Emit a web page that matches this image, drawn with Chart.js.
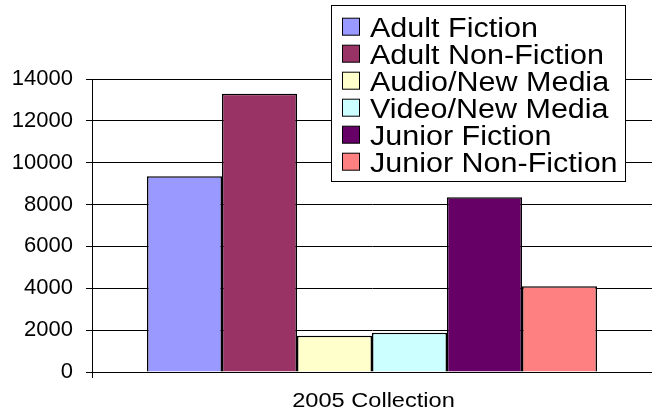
<!DOCTYPE html>
<html lang="en">
<head>
  <meta charset="UTF-8" />
  <title>2005 Collection</title>
  <script src="https://cdn.jsdelivr.net/npm/chart.js"></script>
  <style>
    body { margin: 0; background: #fff; }
    #chart { display: block; }
  </style>
</head>
<body>
  <canvas id="chart" width="652" height="413"></canvas>

  <script>
    const categories = ['2005 Collection'];
    const seriesNames = [
      'Adult Fiction',
      'Adult Non-Fiction',
      'Audio/New Media',
      'Video/New Media',
      'Junior Fiction',
      'Junior Non-Fiction'
    ];
    const seriesValues = [9350, 13300, 1730, 1870, 8350, 4100];
    const seriesColors = ['#9999ff', '#993366', '#ffffcc', '#ccffff', '#660066', '#ff8080'];
    const yMin = 0, yMax = 14000, yStep = 2000;

    const FONT = '"Liberation Sans", Arial, sans-serif';

    // draws text stretched sideways (the old office export has wide glyphs)
    function wideText(ctx, text, x, y, size, stretch, align) {
      ctx.save();
      ctx.font = size + 'px ' + FONT;
      ctx.textBaseline = 'alphabetic';
      ctx.textAlign = 'left';
      const w = ctx.measureText(text).width * stretch;
      let left = x;
      if (align === 'center') left = x - w / 2;
      ctx.translate(left, y);
      ctx.scale(stretch, 1);
      ctx.fillStyle = '#000';
      ctx.fillText(text, 0, 0);
      ctx.restore();
    }

    // boxed legend sitting over the top right of the plot
    const boxLegend = {
      id: 'boxLegend',
      afterDraw(chart) {
        const ctx = chart.ctx;
        const bx = 331.5, by = 5.5, bw = 294, bh = 176;
        ctx.save();
        ctx.fillStyle = '#fff';
        ctx.fillRect(bx, by, bw, bh);
        ctx.strokeStyle = '#000';
        ctx.lineWidth = 1;
        ctx.strokeRect(bx, by, bw, bh);
        chart.data.datasets.forEach((ds, i) => {
          const base = 36.7 + i * 27;
          ctx.fillStyle = ds.backgroundColor;
          ctx.fillRect(342.5, base - 18.5, 17, 17);
          ctx.strokeStyle = '#000';
          ctx.strokeRect(342.5, base - 18.5, 17, 17);
          wideText(ctx, ds.label, 370, base, 27, 1.13, 'left');
        });
        ctx.restore();
      }
    };

    // category label under the x axis
    const categoryLabel = {
      id: 'categoryLabel',
      afterDraw(chart) {
        const x = chart.scales.x;
        categories.forEach((c, i) => {
          wideText(chart.ctx, c, x.getPixelForValue(i) + 1.5, 407, 20, 1.18, 'center');
        });
      }
    };

    const datasets = seriesNames.map((name, i) => ({
      label: name,
      data: [seriesValues[i]],
      backgroundColor: seriesColors[i],
      borderColor: '#000',
      borderWidth: 1.5,
      borderSkipped: 'bottom',
      barPercentage: 1,
      categoryPercentage: 0.8036
    }));

    new Chart(document.getElementById('chart').getContext('2d'), {
      type: 'bar',
      data: { labels: categories, datasets: datasets },
      options: {
        responsive: false,
        animation: false,
        layout: { padding: { top: 79, right: 0, bottom: 0, left: 0 } },
        plugins: {
          legend: { display: false },
          tooltip: { enabled: false }
        },
        scales: {
          x: {
            afterFit(scale) { scale.height = 41; },
            grid: { drawOnChartArea: false, color: '#000', tickLength: 6 },
            border: { color: '#000', width: 1 },
            ticks: { display: false }
          },
          y: {
            min: yMin,
            max: yMax,
            afterFit(scale) { scale.width = 92; },
            grid: { color: '#000', tickLength: 6 },
            border: { color: '#000', width: 1 },
            ticks: {
              stepSize: yStep,
              padding: 13,
              color: '#000',
              font: { family: FONT, size: 22 },
              callback: v => String(v)
            }
          }
        }
      },
      plugins: [boxLegend, categoryLabel]
    });
  </script>
</body>
</html>
